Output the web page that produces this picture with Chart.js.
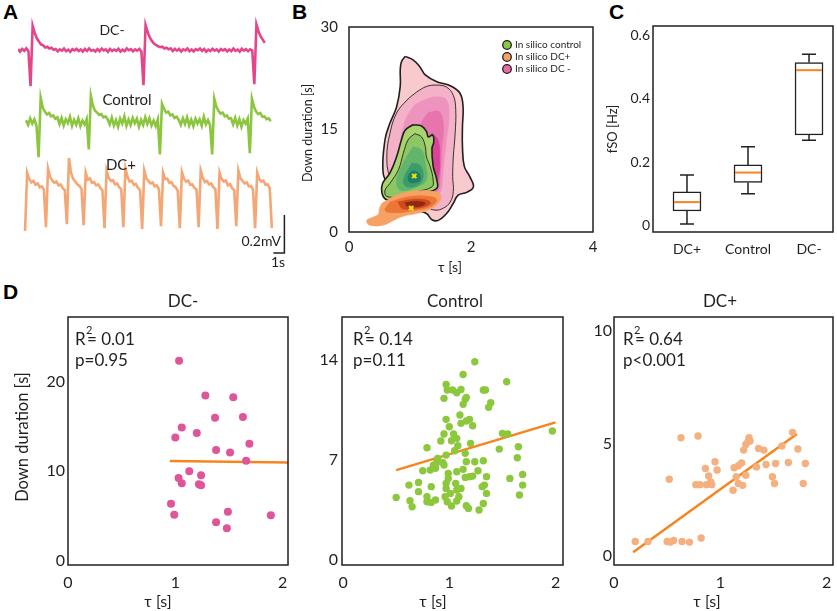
<!DOCTYPE html>
<html>
<head>
<meta charset="utf-8">
<script src="https://cdn.jsdelivr.net/npm/chart.js"></script>
<style>
  html, body { margin: 0; padding: 0; background: #fff; }
  #fig { position: relative; width: 837px; height: 611px; overflow: hidden; }
  #fig canvas { position: absolute; }
  .letter { position: absolute; font: bold 21px "Liberation Sans", Arial, sans-serif; color: #000; line-height: 1; }
</style>
</head>
<body>
<div id="fig">
  <div class="letter" style="left:3px; top:1px">A</div>
  <div class="letter" style="left:292px; top:1px">B</div>
  <div class="letter" style="left:609px; top:1px">C</div>
  <div class="letter" style="left:3px; top:281px">D</div>
  <canvas id="chartA" width="300" height="275" style="left:0; top:0"></canvas>
  <canvas id="chartB" width="310" height="275" style="left:290px; top:0"></canvas>
  <canvas id="chartC" width="237" height="275" style="left:600px; top:0"></canvas>
  <canvas id="chartD1" width="300" height="326" style="left:0; top:285px"></canvas>
  <canvas id="chartD2" width="270" height="326" style="left:300px; top:285px"></canvas>
  <canvas id="chartD3" width="262" height="326" style="left:575px; top:285px"></canvas>
</div>
<script>
// ---------- A: example traces, µV relative to each trace's own baseline ----------
const traceStep = 0.19;               // s between samples
const traceStart = [0, 0.73, 0.64];   // s
const traceOffset = [0, -379, -737];  // µV, vertical stacking of the three traces
const dcMinusTrace = [5,-8,6,-4,9,-6, -190,128,
  90,62,45,30,25,14,18,8,12,2,
  6,-7,4,-3,8,-6,2,-9,5,-2,7,-5,3,-8,6,-4,9,-3,1,-7,5,-6,8,-2,4,-9,6,-5,3,-4,7,-8,2,-6,9,-1,5,-7,4,-3,6,-8,
  -185,132, 95,66,48,35,27,20,15,18,8,12,4,9,
  -5,7,-3,6,-8,4,-2,9,-6,3,-7,5,-1,8,-4,6,-9,2,-5,7,-3,4,-8,6,-2,5,-7,3,-6,8,-4,2,-9,7,-3,5,-6,4,-2,
  -180,135,98,72,55,38];
const controlTrace = [10,-15,20,-8,14,-18, -185,128,
  75,55,40,48,30,35,18,25,
  -10,22,-18,15,-5,28,-20,12,-14,20,-22,8,-12,16,
  -144,138, 85,60,50,38,42,25,30,15,
  -12,24,-18,10,-25,18,-8,30,-20,14,-16,22,-6,18,-24,12,-15,26,-10,20,-18,8,-22,14,
  -170,97, 70,50,55,35,40,22,28,12,
  -15,20,-10,25,-18,12,-22,18,-8,15,-20,28,-12,10,-16,
  -170,123, 80,60,45,50,30,35,18,20,
  -12,22,-18,15,-25,10,-8,18,
  -164,123, 80,55,42,48,28,30,15,20,5];
const dcPlusTrace = [
  -215,92,58,40,48,28,35,15,20,2,
  -195,113,70,50,38,45,25,30,10,0,
  -180,169,90,60,45,30,22,5,
  -185,92,55,62,38,42,25,30,12,-2,
  -200,103,65,48,52,30,35,15,5,
  -195,113,70,45,50,28,32,12,0,
  -205,103,62,48,35,40,20,25,5,
  -190,92,58,60,38,42,22,15,-3,
  -200,95,60,45,50,28,30,12,2,
  -195,103,65,42,48,30,35,15,5,
  -205,92,58,45,50,25,32,10,0,
  -190,103,62,48,35,40,20,22,3,
  -200,92,58,45,50,28,30,10,
  -200];
const scaleBarT = [23.2, 24.2, 24.2];     // 1 s
const scaleBarV = [-1068, -1068, -868];   // 0.2 mV

// ---------- B: density contours (τ [s], down duration [s]) ----------
const pinkOuter = [[0.92,25.7],[1.05,25.2],[1.16,24.2],[1.25,23.0],[1.44,22.0],[1.66,21.4],[1.82,20.3],[1.87,18.3],[1.86,15.4],[1.86,12.5],[1.89,9.6],[1.98,8.1],[2.04,6.6],[1.93,5.8],[1.79,5.4],[1.71,4.2],[1.60,2.7],[1.46,1.7],[1.36,1.8],[1.27,2.7],[1.11,3.2],[0.89,4.7],[0.67,6.6],[0.56,8.6],[0.59,13.5],[0.67,15.9],[0.78,18.3],[0.84,21.3],[0.84,23.7],[0.86,24.9]];
const pinkMid = [[1.11,20.5],[1.27,21.3],[1.44,21.5],[1.60,21.2],[1.71,20.0],[1.75,17.9],[1.74,14.4],[1.71,11.0],[1.70,8.1],[1.71,5.9],[1.66,4.4],[1.55,3.5],[1.41,3.2],[1.27,3.7],[1.11,4.7],[0.84,6.1],[0.67,8.1],[0.62,11.0],[0.67,14.4],[0.78,17.4],[0.95,19.3]];
const pinkInner = [[1.22,19.3],[1.44,19.8],[1.60,19.3],[1.64,16.9],[1.60,13.5],[1.55,9.6],[1.52,6.6],[1.46,5.2],[1.33,4.7],[1.11,5.7],[0.89,7.6],[0.84,11.5],[0.89,15.4],[1.05,18.3]];
const pinkCore = [[1.30,17.5],[1.48,17.6],[1.55,15.5],[1.52,12.0],[1.50,8.5],[1.45,6.0],[1.30,5.6],[1.15,7.0],[1.10,12.0],[1.18,15.8]];
const pinkPeak = [[1.36,14.4],[1.46,13.5],[1.49,10.5],[1.46,7.6],[1.38,6.1],[1.27,6.6],[1.30,10.5]];
const greenOuter = [[1.05,15.7],[1.19,15.5],[1.27,14.7],[1.30,13.9],[1.37,14.2],[1.39,13.2],[1.36,12.2],[1.38,9.6],[1.44,7.6],[1.44,6.4],[1.22,5.7],[0.89,4.9],[0.62,4.7],[0.54,5.7],[0.55,7.1],[0.67,8.6],[0.78,11.0],[0.86,13.5],[0.92,14.9]];
const greenMid = [[1.08,14.4],[1.19,13.9],[1.25,12.5],[1.27,11.0],[1.33,9.6],[1.38,7.6],[1.36,6.6],[1.11,5.9],[0.84,5.2],[0.62,5.2],[0.59,6.1],[0.67,7.1],[0.81,9.1],[0.89,11.5],[0.97,13.5]];
const greenInner = [[1.05,12.5],[1.19,12.0],[1.25,10.1],[1.27,7.6],[1.11,6.6],[0.84,6.1],[0.78,7.6],[0.89,10.1]];
const greenCore = [[1.03,10.1],[1.16,9.8],[1.22,8.1],[1.14,6.9],[0.95,6.6],[0.89,7.6]];
const greenPeak = [[1.05,9.0],[1.15,8.6],[1.17,7.6],[1.08,7.2],[0.98,7.4],[0.98,8.4]];
const orangeOuter = [[0.54,4.2],[0.78,5.4],[1.05,6.0],[1.33,6.0],[1.49,5.6],[1.50,4.7],[1.38,3.6],[1.16,2.8],[0.89,2.3],[0.73,1.7],[0.56,1.0],[0.34,1.0],[0.29,1.7],[0.40,2.2],[0.48,2.6],[0.50,3.5]];
const orangeMid = [[0.67,4.4],[1.00,5.2],[1.33,5.2],[1.44,4.7],[1.33,3.7],[1.05,3.1],[0.73,2.8],[0.59,3.2]];
const orangeInner = [[0.80,4.4],[1.05,4.8],[1.30,4.6],[1.33,4.1],[1.15,3.5],[0.88,3.4]];
const orangeCore = [[0.92,4.3],[1.11,4.5],[1.25,4.2],[1.14,3.7],[0.95,3.8]];
const contourPeaks = [[1.07,8.2],[1.02,3.5]];
const legendNames = ['In silico control', 'In silico DC+', 'In silico DC -'];

// ---------- C: fSO box plot ----------
const boxGroups = ['DC+', 'Control', 'DC-'];
const boxMin    = [0.006, 0.101, 0.270];
const boxQ1     = [0.047, 0.137, 0.286];
const boxMedian = [0.075, 0.168, 0.490];
const boxQ3     = [0.107, 0.192, 0.514];
const boxMax    = [0.160, 0.249, 0.540];

// ---------- D: τ vs down duration ----------
const dcMinusTau  = [1.035,1.28,1.54,1.37,1.63,1.06,1.20,1.00,1.69,1.38,1.51,1.66,1.13,1.03,1.24,1.06,1.22,1.24,0.96,0.99,1.38,1.49,1.48,1.89];
const dcMinusDown = [22.4,18.5,18.3,16.0,16.1,14.9,14.3,13.8,13.1,12.4,12.1,11.2,10.0,9.25,9.55,8.65,8.54,8.43,6.37,5.13,4.3,5.47,3.63,5.09];
const dcMinusFitTau = [0.95, 2.05], dcMinusFitDown = [11.16, 11.0];
const controlTau  = [1.24,1.13,1.54,0.97,0.98,1.03,1.07,1.11,1.32,1.34,0.95,1.16,1.15,1.13,1.39,1.37,1.10,0.97,1.19,1.11,1.16,1.22,1.00,0.95,1.04,1.07,1.02,0.92,1.08,1.20,0.79,1.47,1.50,1.55,1.65,1.05,1.15,0.97,0.89,0.94,0.88,1.16,1.24,1.32,1.64,0.85,0.82,0.87,0.95,0.75,1.07,1.13,1.27,0.99,1.69,0.99,1.15,1.19,1.22,1.35,1.57,0.62,0.71,0.83,0.97,1.06,1.33,1.69,1.35,1.31,0.97,1.07,1.11,0.71,0.79,0.63,0.50,0.96,1.01,1.09,0.98,1.07,0.87,0.83,0.79,0.65,1.02,1.18,1.16,1.28,1.32,1.66,1.97];
const controlDown = [13.87,12.98,12.47,12.28,11.89,11.89,11.70,11.93,11.89,11.89,11.31,11.38,11.24,10.89,11.0,10.68,10.14,9.84,9.84,9.56,9.72,9.39,9.32,8.81,8.81,8.51,8.34,8.32,7.99,8.16,7.85,7.76,8.86,8.81,7.92,7.64,7.46,7.34,7.11,6.80,6.80,6.87,6.87,6.94,7.15,6.64,6.29,6.41,6.64,6.24,6.17,6.34,6.24,6.06,5.99,5.71,5.78,5.83,5.87,5.83,5.71,5.24,5.43,5.13,5.36,5.36,5.24,5.24,4.66,5.13,5.01,4.90,5.01,4.78,4.43,4.15,4.38,4.43,4.66,4.43,4.08,4.13,4.20,4.03,4.08,3.73,3.78,3.61,3.80,3.50,3.96,4.55,9.02];
const controlFitTau = [0.50, 2.0], controlFitDown = [6.29, 9.63];
const dcPlusTau  = [0.20,0.32,0.50,0.53,0.56,0.64,0.71,0.82,0.63,0.79,0.52,0.77,0.81,0.86,0.89,0.92,0.95,0.97,0.87,0.91,1.13,1.17,1.20,1.12,1.17,1.21,1.15,1.24,1.22,1.24,1.26,1.27,1.28,1.36,1.41,1.34,1.43,1.52,1.49,1.51,1.58,1.64,1.68,1.73,1.80,1.78];
const dcPlusDown = [0.63,0.63,0.63,0.60,0.67,0.63,0.60,0.78,5.25,5.33,3.40,3.16,3.16,3.88,3.55,3.16,4.18,3.81,3.16,3.28,3.91,4.00,4.13,2.91,3.21,3.13,3.51,3.58,4.70,4.95,5.07,5.25,5.10,4.77,4.70,3.95,4.06,4.10,3.51,3.21,4.88,4.15,5.49,4.75,4.10,3.21];
const dcPlusFitTau = [0.18, 1.72], dcPlusFitDown = [0.15, 5.42];

// ------------------------------------------------------------
Chart.defaults.font.family = 'Lato, sans-serif';
Chart.defaults.color = '#231f20';
Chart.defaults.animation = false;
Chart.defaults.plugins.legend.display = false;
Chart.defaults.plugins.tooltip.enabled = false;

const INK = '#231f20';
const ORANGE_FIT = '#f7841f';

const pairs = (xs, ys) => xs.map((x, i) => ({x, y: ys[i]}));
const closed = pts => pts.concat([pts[0]]).map(p => ({x: p[0], y: p[1]}));

// linear axis with fixed thickness so every chart area lands where the figure has it
function axis(o) {
  return {
    type: 'linear', min: o.min, max: o.max, display: o.display !== false, offset: false,
    grid: { display: false, drawTicks: false },
    border: { display: false },
    ticks: { padding: o.pad || 0, font: { size: o.font || 14 }, color: INK, autoSkip: false, maxRotation: 0,
             callback: o.fmt || (v => v) },
    afterBuildTicks: s => { if (o.ticks) s.ticks = o.ticks.map(v => ({value: v})); },
    afterFit: s => {
      if (o.w !== undefined) s.width = o.w;
      if (o.h !== undefined) s.height = o.h;
      s.paddingLeft = s.paddingRight = s.paddingTop = s.paddingBottom = 0;
    }
  };
}

// frame around the plot area plus free text (canvas coordinates)
function decor(items, frame = true) {
  return {
    id: 'decor',
    afterDraw(chart) {
      const {ctx, chartArea: a} = chart;
      ctx.save();
      if (frame) {
        ctx.strokeStyle = INK; ctx.lineWidth = 1.5;
        ctx.strokeRect(a.left, a.top, a.right - a.left, a.bottom - a.top);
      }
      items.forEach(it => {
        ctx.save();
        ctx.translate(it.x, it.y);
        if (it.rot) ctx.rotate(it.rot);
        ctx.font = `${it.size || 16}px Lato, sans-serif`;
        ctx.textAlign = it.align || 'center';
        ctx.textBaseline = 'middle';
        ctx.fillStyle = INK;
        ctx.fillText(it.t, 0, 0);
        ctx.restore();
      });
      ctx.restore();
    }
  };
}

function statText(x, r2, p) {
  return [
    {t: 'R', x: x, y: 55, size: 17, align: 'left'},
    {t: '2', x: x + 11, y: 45, size: 11, align: 'left'},
    {t: '= ' + r2, x: x + 12, y: 55, size: 17, align: 'left'},
    {t: p, x: x, y: 76, size: 17, align: 'left'}
  ];
}

// ---------- A ----------
const traceSets = [dcMinusTrace, controlTrace, dcPlusTrace];
const traceColors = ['#e5468a', '#8cc63f', '#f4a675'];
new Chart(document.getElementById('chartA'), {
  type: 'scatter',
  data: {
    datasets: traceSets.map((tr, k) => ({
      data: tr.map((v, i) => ({x: traceStart[k] + i * traceStep, y: v + traceOffset[k]})),
      showLine: true, borderColor: traceColors[k], borderWidth: 2.6, pointRadius: 0, tension: 0
    })).concat([{
      data: pairs(scaleBarT, scaleBarV), showLine: true, borderColor: INK, borderWidth: 1.5, pointRadius: 0
    }])
  },
  options: {
    responsive: false, devicePixelRatio: 1,
    layout: { padding: {left: 18, right: 9, top: 10, bottom: 15} },
    scales: {
      x: axis({min: 0, max: 24.8, display: false}),
      y: axis({min: -1105, max: 211, display: false})
    }
  },
  plugins: [decor([
    {t: 'DC-', x: 112, y: 30, size: 14},
    {t: 'Control', x: 127, y: 100, size: 15},
    {t: 'DC+', x: 121, y: 165, size: 15},
    {t: '0.2mV', x: 281, y: 241, size: 14, align: 'right'},
    {t: '1s', x: 278, y: 262, size: 14}
  ], false)]
});

// ---------- B ----------
// listed bottom layer first
const contourStyles = [
  [pinkOuter,  '#f8cacd', INK, 1.6],
  [pinkMid,    '#f3b2c8', INK, 0.9],
  [pinkInner,  '#ee93bd', null, 0],
  [pinkCore,   '#e874ad', null, 0],
  [pinkPeak,   '#d9449a', null, 0],
  [greenOuter, '#a7d46e', INK, 1.6],
  [greenMid,   '#8cc764', INK, 0.9],
  [greenInner, '#63b46c', null, 0],
  [greenCore,  '#3d9c6b', null, 0],
  [greenPeak,  '#1f8064', null, 0],
  [orangeOuter,'#f6a265', null, 0],
  [orangeMid,  '#ec7636', null, 0],
  [orangeInner,'#cc4a1d', null, 0],
  [orangeCore, '#8f2713', null, 0]
];
const legendColors = ['#8dc63f', '#f5a066', '#ea6aa7'];
new Chart(document.getElementById('chartB'), {
  type: 'scatter',
  data: {
    datasets: contourStyles.map(([pts, fill, line, w], k) => ({
      data: closed(pts), showLine: true, fill: 'shape', backgroundColor: fill,
      borderColor: line || fill, borderWidth: line ? w : 0.5, pointRadius: 0, tension: 0.4,
      order: contourStyles.length - k
    })).concat([{
      data: contourPeaks.map(p => ({x: p[0], y: p[1]})), pointStyle: 'crossRot',
      pointRadius: 3, borderColor: '#ffe600', borderWidth: 2, order: 0
    }])
  },
  options: {
    responsive: false, devicePixelRatio: 1,
    layout: { padding: {left: 0, right: 7, top: 27, bottom: 0} },
    scales: {
      x: axis({min: 0, max: 4, ticks: [0, 2, 4], pad: 6, font: 15, h: 43}),
      y: axis({min: 0, max: 30, ticks: [0, 15, 30], pad: 11, font: 15, w: 59})
    }
  },
  plugins: [decor([
    {t: 'Down duration [s]', x: 18, y: 133, size: 12.5, rot: -Math.PI / 2},
    {t: 'τ [s]', x: 160, y: 267, size: 14}
  ].concat(legendNames.map((n, i) => ({t: n, x: 225, y: 45 + 12 * i, size: 10, align: 'left'})))),
  {
    id: 'legendDots',
    afterDraw(chart) {
      const ctx = chart.ctx;
      legendColors.forEach((c, i) => {
        ctx.beginPath();
        ctx.arc(217, 45 + 12 * i, 4.3, 0, Math.PI * 2);
        ctx.fillStyle = c; ctx.fill();
        ctx.lineWidth = 1.3; ctx.strokeStyle = INK; ctx.stroke();
      });
    }
  }]
});

// ---------- C ----------
const whiskers = {
  id: 'whiskers',
  afterDatasetsDraw(chart) {
    const {ctx, scales: {x, y}} = chart;
    ctx.save();
    boxGroups.forEach((g, i) => {
      const cx = x.getPixelForValue(i + 1);
      ctx.strokeStyle = INK; ctx.lineWidth = 1.5;
      ctx.beginPath();
      ctx.moveTo(cx, y.getPixelForValue(boxQ1[i])); ctx.lineTo(cx, y.getPixelForValue(boxMin[i]));
      ctx.moveTo(cx - 7, y.getPixelForValue(boxMin[i])); ctx.lineTo(cx + 7, y.getPixelForValue(boxMin[i]));
      ctx.moveTo(cx, y.getPixelForValue(boxQ3[i])); ctx.lineTo(cx, y.getPixelForValue(boxMax[i]));
      ctx.moveTo(cx - 7, y.getPixelForValue(boxMax[i])); ctx.lineTo(cx + 7, y.getPixelForValue(boxMax[i]));
      ctx.stroke();
      ctx.strokeStyle = ORANGE_FIT; ctx.lineWidth = 2;
      ctx.beginPath();
      ctx.moveTo(cx - 13, y.getPixelForValue(boxMedian[i])); ctx.lineTo(cx + 13, y.getPixelForValue(boxMedian[i]));
      ctx.stroke();
    });
    ctx.restore();
  }
};
new Chart(document.getElementById('chartC'), {
  type: 'bar',
  data: {
    datasets: [{
      data: boxGroups.map((g, i) => ({x: i + 1, y: [boxQ1[i], boxQ3[i]]})),
      backgroundColor: '#fff', borderColor: INK, borderWidth: 1.5, borderSkipped: false, barThickness: 28
    }]
  },
  options: {
    responsive: false, devicePixelRatio: 1,
    layout: { padding: {left: 0, right: 4, top: 26, bottom: 0} },
    scales: {
      x: axis({min: 0.443, max: 3.393, ticks: [1, 2, 3], pad: 9, font: 14, h: 43, fmt: v => boxGroups[v - 1]}),
      y: axis({min: -0.019, max: 0.629, ticks: [0, 0.2, 0.4, 0.6], pad: 3, font: 14, w: 53})
    }
  },
  plugins: [whiskers, decor([
    {t: 'fSO [Hz]', x: 13, y: 129, size: 13, rot: -Math.PI / 2}
  ])]
});

// ---------- D ----------
function scatterPanel(id, o) {
  new Chart(document.getElementById(id), {
    type: 'scatter',
    data: {
      datasets: [
        { data: pairs(o.tau, o.down), backgroundColor: o.color, borderWidth: 0, pointRadius: o.r },
        { data: pairs(o.fitTau, o.fitDown), showLine: true, borderColor: ORANGE_FIT, borderWidth: 2.5, pointRadius: 0 }
      ]
    },
    options: {
      responsive: false, devicePixelRatio: 1,
      layout: { padding: {left: 0, right: o.padR, top: 32, bottom: 0} },
      scales: {
        x: axis({min: o.xmin, max: o.xmax, ticks: [0, 1, 2], pad: 8, font: 16, h: 46}),
        y: axis({min: o.ymin, max: o.ymax, ticks: o.yticks, pad: o.ypad, font: 16, w: o.yw})
      }
    },
    plugins: [decor(o.texts)]
  });
}

scatterPanel('chartD1', {
  tau: dcMinusTau, down: dcMinusDown, fitTau: dcMinusFitTau, fitDown: dcMinusFitDown,
  color: '#e05599', r: 4, padR: 12, yw: 68, ypad: 3,
  xmin: 0, xmax: 2.05, ymin: -0.5, ymax: 27.3, yticks: [0, 10, 20],
  texts: [
    {t: 'DC-', x: 183, y: 17, size: 17},
    {t: 'Down duration [s]', x: 23, y: 152, size: 16.5, rot: -Math.PI / 2},
    {t: 'τ [s]', x: 158, y: 317, size: 16}
  ].concat(statText(75, '0.01', 'p=0.95'))
});
scatterPanel('chartD2', {
  tau: controlTau, down: controlDown, fitTau: controlFitTau, fitDown: controlFitDown,
  color: '#8cc83c', r: 3.7, padR: 7, yw: 42, ypad: 4,
  xmin: -0.01, xmax: 2.07, ymin: -0.35, ymax: 17.0, yticks: [0, 7, 14],
  texts: [
    {t: 'Control', x: 155, y: 17, size: 17},
    {t: 'τ [s]', x: 133, y: 317, size: 16}
  ].concat(statText(53, '0.14', 'p=0.11'))
});
scatterPanel('chartD3', {
  tau: dcPlusTau, down: dcPlusDown, fitTau: dcPlusFitTau, fitDown: dcPlusFitDown,
  color: '#f5b07f', r: 3.7, padR: 2, yw: 39, ypad: 2,
  xmin: 0, xmax: 2.06, ymin: -0.42, ymax: 10.63, yticks: [0, 5, 10],
  texts: [
    {t: 'DC+', x: 145, y: 17, size: 17},
    {t: 'τ [s]', x: 132, y: 317, size: 16}
  ].concat(statText(48, '0.64', 'p<0.001'))
});
</script>
</body>
</html>
